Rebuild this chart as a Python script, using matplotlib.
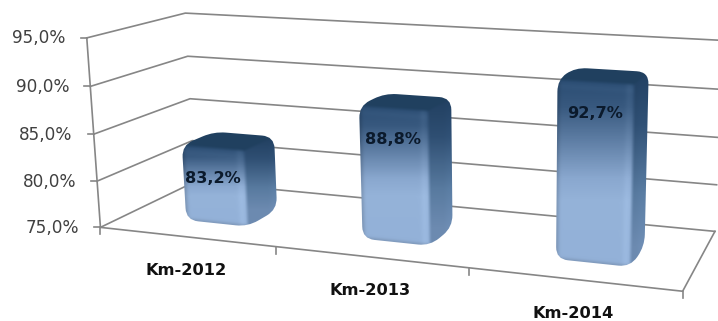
import numpy as np
import matplotlib
matplotlib.use("Agg")
import matplotlib.pyplot as plt
from matplotlib.path import Path
from matplotlib.patches import PathPatch
from matplotlib.colors import LinearSegmentedColormap

categories = ["Km-2012", "Km-2013", "Km-2014"]
values = [83.2, 88.8, 92.7]
value_labels = ["83,2%", "88,8%", "92,7%"]
y_ticks = [75, 80, 85, 90, 95]
y_tick_labels = ["75,0%", "80,0%", "85,0%", "90,0%", "95,0%"]

# calibration of the 3d box: (category pos, depth, value) -> pixel
box_world = [(0, 0, 75), (0, 0, 95), (0, 1, 75), (0, 1, 95), (3, 1, 75), (3, 1, 95),
             (3, 0, 75), (1, 0, 75), (2, 0, 75), (0, 1, 85), (0, 0, 85), (3, 1, 85)]
box_pixel = [(100, 228), (87, 38), (195, 181), (185, 13), (715, 232), (722, 40),
             (683, 290), (276, 247), (469, 268), (190, 99), (94, 134), (718, 138)]

BAR_U = (0.35, 0.71)
BAR_Z = (0.27, 0.62)
GRID = "#868686"


def fit_projection(world, pixel):
    rows = []
    for (u, z, v), (px, py) in zip(world, pixel):
        w = (u, z, (v - 75) / 20, 1)
        rows.append(list(w) + [0, 0, 0, 0] + [-px * c for c in w])
        rows.append([0, 0, 0, 0] + list(w) + [-py * c for c in w])
    return np.linalg.svd(np.array(rows, float))[2][-1].reshape(3, 4)


P = fit_projection(box_world, box_pixel)


def proj(u, z, v):
    p = P @ np.array([u, z, (v - 75) / 20, 1])
    return np.array([p[0] / p[2], p[1] / p[2]])


def rounded(points, r):
    # closed path through the polygon with every corner rounded off
    verts, codes = [], []
    n = len(points)
    for i in range(n):
        a, b, c = points[i - 1], points[i], points[(i + 1) % n]
        ra = min(r, np.linalg.norm(a - b) / 2)
        rc = min(r, np.linalg.norm(c - b) / 2)
        p1 = b + (a - b) / np.linalg.norm(a - b) * ra
        p2 = b + (c - b) / np.linalg.norm(c - b) * rc
        verts += [p1, b, p2]
        codes += [Path.MOVETO if i == 0 else Path.LINETO, Path.CURVE3, Path.CURVE3]
    verts.append(verts[0])
    codes.append(Path.CLOSEPOLY)
    return Path(verts, codes)


def smooth(d, w):
    t = np.clip(d / w + 0.5, 0, 1)
    return t * t * (3 - 2 * t)


front_cm = LinearSegmentedColormap.from_list("front", [(0, "#2a4c72"), (0.15, "#38597f"), (0.55, "#8aa8cf"), (0.68, "#95b3d9"), (1, "#93b1d8")])
side_cm = LinearSegmentedColormap.from_list("side", [(0, "#213f60"), (0.3, "#2f4f73"), (0.7, "#587a9f"), (1, "#6c8ab0")])


def draw_bar(ax, i, value):
    u0, u1 = i + BAR_U[0], i + BAR_U[1]
    z0, z1 = BAR_Z
    fbl, ftl = proj(u0, z0, 75), proj(u0, z0, value)
    ftr, fbr = proj(u1, z0, value), proj(u1, z0, 75)
    btl, btr = proj(u0, z1, value), proj(u1, z1, value)
    bbr = proj(u1, z1, 75)

    outline = [fbl, ftl, btl, btr, bbr, fbr]
    x0 = int(min(p[0] for p in outline)) - 2
    x1 = int(max(p[0] for p in outline)) + 3
    y0 = int(min(p[1] for p in outline)) - 2
    y1 = int(max(p[1] for p in outline)) + 3
    xx, yy = np.meshgrid(np.arange(x0, x1) + 0.5, np.arange(y0, y1) + 0.5)

    t = np.clip((yy - ftl[1]) / (fbl[1] - ftl[1]), 0, 1)
    t_side = np.clip((yy - btr[1]) / (bbr[1] - btr[1]), 0, 1)
    front = front_cm(t)[..., :3]
    side = side_cm(t_side)[..., :3]
    side = side * (1 + 0.03 * (smooth(xx - bbr[0] + 6, 8))[..., None])

    d_right = xx - (ftr[0] + (fbr[0] - ftr[0]) * (yy - ftr[1]) / (fbr[1] - ftr[1]))
    d_left = xx - (ftl[0] + (fbl[0] - ftl[0]) * (yy - ftl[1]) / (fbl[1] - ftl[1]))
    d_top = yy - (ftl[1] + (ftr[1] - ftl[1]) * (xx - ftl[0]) / (ftr[0] - ftl[0]))
    d_top_side = yy - (ftr[1] + (btr[1] - ftr[1]) * (xx - ftr[0]) / (btr[0] - ftr[0]))
    d_bottom = (fbl[1] + (fbr[1] - fbl[1]) * (xx - fbl[0]) / (fbr[0] - fbl[0])) - yy

    # soft rim highlights on the front face
    glow = np.exp(-((d_right + 5) / 3.5) ** 2) + 0.6 * np.exp(-((d_top - 6) / 3.5) ** 2)
    front = front + 0.03 * glow[..., None]
    front = front * (1 - 0.14 * np.exp(-(d_left / 3) ** 2) - 0.12 * np.exp(-(d_bottom / 2.5) ** 2))[..., None]

    a = smooth(d_right, 5)[..., None]
    img = front * (1 - a) + side * a
    top_col = np.array(matplotlib.colors.to_rgb("#20405f"))
    m = np.where(d_right > 0, d_top_side, d_top)
    b = smooth(m, 5)[..., None]
    img = np.clip(top_col * (1 - b) + img * b, 0, 1)

    im = ax.imshow(img, extent=(x0, x1, y1, y0), zorder=3, interpolation="bilinear", aspect="auto")
    clip = PathPatch(rounded(outline, 12), transform=ax.transData, facecolor="none", edgecolor="none")
    ax.add_patch(clip)
    im.set_clip_path(clip)

    mid = proj(i + sum(BAR_U) / 2, z0, value)
    ax.text(mid[0], mid[1] + 31, value_labels[i], ha="center", va="center", fontsize=11.6,
            fontweight="bold", color="#0b1a2c", zorder=5)


fig = plt.figure(figsize=(7.18, 3.21), dpi=100)
ax = fig.add_axes([0, 0, 1, 1])

for v, lab in zip(y_ticks, y_tick_labels):
    line = np.array([proj(0, 0, v), proj(0, 1, v), proj(3, 1, v)])
    ax.plot(line[:, 0], line[:, 1], color=GRID, lw=1.2, zorder=1)
    p = proj(0, 0, v)
    ax.plot([p[0] - 6, p[0]], [p[1], p[1]], color=GRID, lw=1.2, zorder=1)
    ax.text(p[0] - 21, p[1] + 0.5, lab, ha="right", va="center", fontsize=12.2, color="#404040")

edge = np.array([proj(0, 0, 95), proj(0, 0, 75), proj(3, 0, 75), proj(3, 1, 75)])
ax.plot(edge[:, 0], edge[:, 1], color=GRID, lw=1.2, zorder=1)
for k in range(len(categories) + 1):
    p = proj(k, 0, 75)
    ax.plot([p[0], p[0]], [p[1], p[1] + 7], color=GRID, lw=1.2, zorder=1)

for i, cat in enumerate(categories):
    p = proj(i + 0.5, 0, 75)
    ax.text(p[0], p[1] + 34, cat, ha="center", va="center", fontsize=11.7,
            fontweight="bold", color="#111111")
    draw_bar(ax, i, values[i])

ax.set_xlim(0, 718)
ax.set_ylim(321, 0)
ax.axis("off")
fig.savefig("out.png", dpi=100)
